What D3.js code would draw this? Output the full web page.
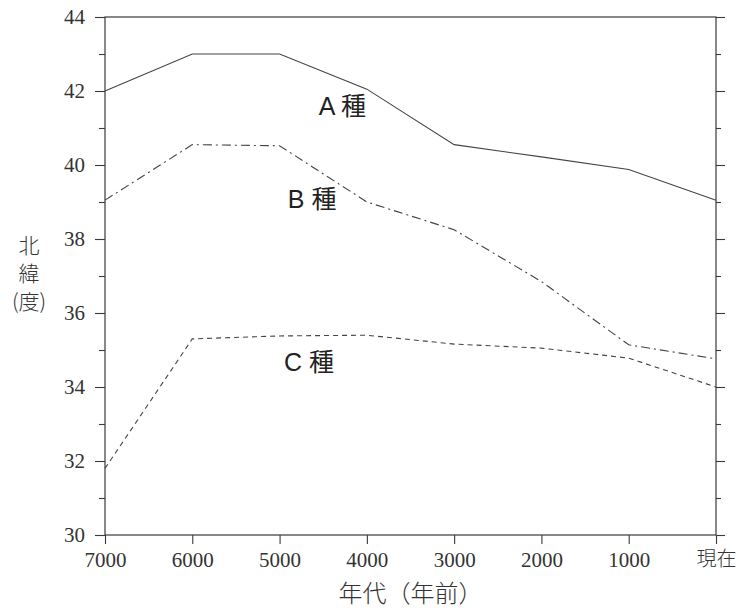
<!DOCTYPE html>
<html>
<head>
<meta charset="utf-8">
<script src="https://cdn.jsdelivr.net/npm/d3@7"></script>
<style>
  body { margin: 0; background: #fff; }
  svg { display: block; }
  .ylab text, .xlab text { font-family: "Liberation Serif", "DejaVu Serif", serif; font-size: 21px; }
</style>
</head>
<body>
<div class="chart"></div>
<script>
// 北緯の変化（A種・B種・C種）

var years = [7000, 6000, 5000, 4000, 3000, 2000, 1000, 0];
var seriesA = [42.0, 43.0, 43.0, 42.05, 40.55, 40.22, 39.88, 39.05];
var seriesB = [39.05, 40.55, 40.52, 39.0, 38.25, 36.85, 35.14, 34.76];
var seriesC = [31.8, 35.3, 35.38, 35.4, 35.16, 35.05, 34.78, 34.0];
var seriesNames = ["A 種", "B 種", "C 種"];
var yTicks = [30, 32, 34, 36, 38, 40, 42, 44];
var yMinor = [31, 33, 35, 37, 39, 41, 43];

var width = 738, height = 610;
var margin = {top: 17, right: 22, bottom: 75, left: 105};

var x = d3.scaleLinear().domain([7000, 0]).range([margin.left, width - margin.right]);
var y = d3.scaleLinear().domain([30, 44]).range([height - margin.bottom, margin.top]);

var ink = "#3a3a3a";
var cjk = "'Noto Sans CJK JP', sans-serif";

var svg = d3.select(".chart").append("svg")
    .attr("width", width)
    .attr("height", height);

/* frame */
svg.append("rect")
    .attr("x", x(7000)).attr("y", y(44))
    .attr("width", x(0) - x(7000)).attr("height", y(30) - y(44))
    .attr("fill", "none").attr("stroke", ink).attr("stroke-width", 1.2);

function styleAxis(g) {
    g.attr("font-family", null).attr("font-size", null);
    g.select(".domain").remove();
    g.selectAll("line").attr("stroke", ink).attr("stroke-width", 1.1);
    g.selectAll("text").attr("fill", "#333");
}

// Y axis (left)
svg.append("g")
    .attr("class", "ylab")
    .attr("transform", "translate(" + x(7000) + ",0)")
    .call(d3.axisLeft(y).tickValues(yTicks).tickSize(10).tickPadding(10))
    .call(styleAxis);
svg.append("g")
    .attr("transform", "translate(" + x(7000) + ",0)")
    .call(d3.axisLeft(y).tickValues(yMinor).tickSize(6).tickFormat(""))
    .call(styleAxis);

// Y axis (right)
svg.append("g")
    .attr("transform", "translate(" + x(0) + ",0)")
    .call(d3.axisRight(y).tickValues(yTicks).tickSize(9).tickFormat(""))
    .call(styleAxis);
svg.append("g")
    .attr("transform", "translate(" + x(0) + ",0)")
    .call(d3.axisRight(y).tickValues(yMinor).tickSize(5).tickFormat(""))
    .call(styleAxis);

// X axis
svg.append("g")
    .attr("class", "xlab")
    .attr("transform", "translate(0," + y(30) + ")")
    .call(d3.axisBottom(x).tickValues(years).tickSize(9).tickPadding(8)
        .tickFormat(function(d) { return d === 0 ? "現在" : d; }))
    .call(styleAxis)
    .selectAll("text")
    .filter(function(d) { return d === 0; })
    .style("font-family", cjk)
    .style("font-size", "20px")
    .style("font-weight", 300);

/* lines */
var line = d3.line()
    .x(function(d, i) { return x(years[i]); })
    .y(function(d) { return y(d); });

svg.append("path").datum(seriesA)
    .attr("d", line).attr("fill", "none")
    .attr("stroke", "#444").attr("stroke-width", 1.1);
svg.append("path").datum(seriesB)
    .attr("d", line).attr("fill", "none")
    .attr("stroke", "#444").attr("stroke-width", 1.1)
    .attr("stroke-dasharray", "9,4,2,4");
svg.append("path").datum(seriesC)
    .attr("d", line).attr("fill", "none")
    .attr("stroke", "#444").attr("stroke-width", 1.1)
    .attr("stroke-dasharray", "5,4");

/* series labels */
var labelPos = [[4550, 41.35], [4905, 38.84], [4950, 34.43]];
svg.selectAll(".lab").data(seriesNames).enter().append("text")
    .attr("class", "lab")
    .attr("x", function(d, i) { return x(labelPos[i][0]); })
    .attr("y", function(d, i) { return y(labelPos[i][1]); })
    .attr("font-family", "'Liberation Sans', " + cjk)
    .attr("font-size", 25)
    .attr("fill", "#222")
    .text(function(d) { return d; });

/* axis titles */
svg.append("text")
    .attr("x", (x(7000) + x(0)) / 2)
    .attr("y", 602)
    .attr("text-anchor", "middle")
    .attr("font-family", cjk)
    .attr("font-size", 24)
    .attr("font-weight", 300)
    .attr("fill", "#333")
    .text("年代（年前）");

var yTitle = svg.append("text")
    .attr("text-anchor", "middle")
    .attr("font-family", cjk)
    .attr("font-size", 21)
    .attr("font-weight", 300)
    .attr("fill", "#333");
["北", "緯", "(度)"].forEach(function(t, i) {
    yTitle.append("tspan").attr("x", 29).attr("y", 253 + i * 28).text(t);
});
</script>
</body>
</html>
